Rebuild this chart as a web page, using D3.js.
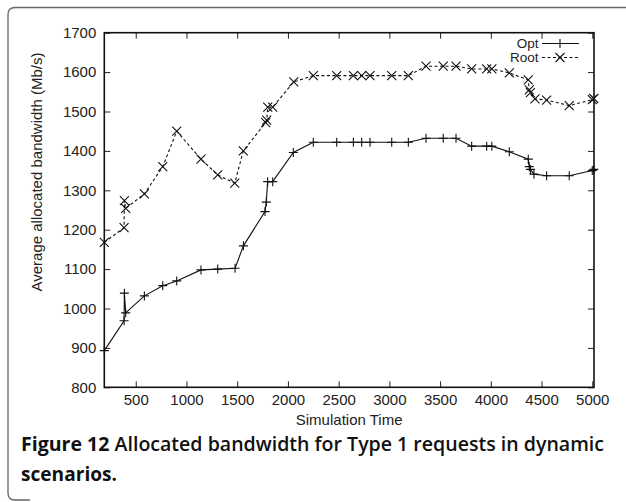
<!DOCTYPE html>
<html><head><meta charset="utf-8">
<script src="https://cdn.jsdelivr.net/npm/d3@7"></script>
<style>
body{margin:0;background:#fff;}
svg{display:block;}
</style></head>
<body>
<svg id="c" width="626" height="502"></svg>
<script>
const optX = [190,385,388,401,585,766,904,1143,1308,1479,1561,1774,1787,1800,1850,2053,2250,2481,2645,2727,2809,3023,3187,3361,3531,3657,3811,3959,4010,4182,4369,4379,4390,4425,4550,4773,5000,5015];
const optY = [893,969,1039,989,1032,1058,1070,1098,1100,1102,1159,1246,1270,1322,1322,1396,1422,1422,1422,1422,1422,1422,1422,1432,1432,1432,1412,1412,1412,1398,1379,1360,1353,1341,1337,1337,1350,1353];
const rootX = [190,385,388,401,585,766,904,1143,1308,1476,1560,1781,1791,1801,1850,2057,2250,2481,2645,2727,2809,3023,3187,3361,3531,3657,3811,3959,4010,4182,4369,4379,4390,4435,4550,4773,5000,5015];
const rootY = [1168,1205,1274,1254,1291,1360,1450,1379,1339,1318,1400,1472,1478,1511,1511,1575,1591,1591,1591,1591,1591,1591,1591,1615,1615,1615,1608,1608,1608,1598,1580,1555,1548,1532,1529,1515,1530,1533];
const xTicks = [500,1000,1500,2000,2500,3000,3500,4000,4500,5000];
const yTicks = [800,900,1000,1100,1200,1300,1400,1500,1600,1700];
const seriesNames = ["Opt","Root"];
const xLabel = "Simulation Time";
const yLabel = "Average allocated bandwidth (Mb/s)";
const captionBold = "Figure 12";
const captionLine1 = " Allocated bandwidth for Type 1 requests in dynamic";
const captionLine2 = "scenarios.";

const svg = d3.select("#c");
const L = 104.3, R = 594, T = 32.7, B = 387.3;
const x = d3.scaleLinear().domain([190, 5017]).range([L, R]);
const y = d3.scaleLinear().domain([800, 1700]).range([B, T]);
const font = "'Liberation Sans', Arial, sans-serif";
const fmt = d3.format("d");

// outer frame (rounded, open right side)
svg.append("path")
  .attr("d", "M626,7.5 H15 Q8,7.5 8,14.5 V493 Q8,500 15,500 H30")
  .attr("fill","none").attr("stroke","#666").attr("stroke-width",1.3);

const g = svg.append("g");
const tl = 6;
const xb = g.append("g").attr("transform",`translate(0,${B})`)
  .call(d3.axisBottom(x).tickValues(xTicks).tickSizeInner(-tl).tickSizeOuter(0).tickPadding(7.5).tickFormat(fmt));
const xt = g.append("g").attr("transform",`translate(0,${T})`)
  .call(d3.axisTop(x).tickValues(xTicks).tickSizeInner(-tl).tickSizeOuter(0).tickFormat(""));
const yl = g.append("g").attr("transform",`translate(${L},0)`)
  .call(d3.axisLeft(y).tickValues(yTicks).tickSizeInner(-tl).tickSizeOuter(0).tickPadding(8).tickFormat(fmt));
const yr = g.append("g").attr("transform",`translate(${R},0)`)
  .call(d3.axisRight(y).tickValues(yTicks).tickSizeInner(-tl).tickSizeOuter(0).tickFormat(""));
[xb,xt,yl,yr].forEach(a=>{
  a.select(".domain").remove();
  a.selectAll("line").attr("stroke","#222").attr("stroke-width",1);
  a.selectAll("text").attr("font-family",font).attr("font-size",15).attr("fill","#222");
});
g.append("rect").attr("x",L).attr("y",T).attr("width",R-L).attr("height",B-T)
  .attr("fill","none").attr("stroke","#111").attr("stroke-width",1.6);

// axis labels
svg.append("text").attr("x",(L+R)/2).attr("y",425).attr("text-anchor","middle")
  .attr("font-family",font).attr("font-size",15).attr("fill","#222").text(xLabel);
svg.append("text").attr("transform","translate(42,172) rotate(-90)").attr("text-anchor","middle")
  .attr("font-family",font).attr("font-size",15).attr("fill","#222").text(yLabel);

// lines
const optData = optX.map((v,i)=>[v,optY[i]]);
const rootData = rootX.map((v,i)=>[v,rootY[i]]);
const line = d3.line().x(d=>x(d[0])).y(d=>y(d[1]));
const ms = 4.5;
const plusPath = `M${-ms},0H${ms}M0,${-ms}V${ms}`;
const crossPath = `M${-ms},${-ms}L${ms},${ms}M${-ms},${ms}L${ms},${-ms}`;

g.append("path").datum(optData).attr("d",line).attr("fill","none").attr("stroke","#111").attr("stroke-width",1.1);
g.selectAll(".po").data(optData).join("path").attr("class","po")
  .attr("transform",d=>`translate(${x(d[0])},${y(d[1])})`).attr("d",plusPath)
  .attr("stroke","#111").attr("stroke-width",1.1).attr("fill","none");

g.append("path").datum(rootData).attr("d",line).attr("fill","none").attr("stroke","#111").attr("stroke-width",1.1)
  .attr("stroke-dasharray","3,2.5");
g.selectAll(".pr").data(rootData).join("path").attr("class","pr")
  .attr("transform",d=>`translate(${x(d[0])},${y(d[1])})`).attr("d",crossPath)
  .attr("stroke","#111").attr("stroke-width",1.1).attr("fill","none");

// legend
const lg = svg.append("g");
const legY = [43.5, 57.5];
seriesNames.forEach((n,i)=>{
  lg.append("text").attr("x",538.5).attr("y",legY[i]+4.5).attr("text-anchor","end")
    .attr("font-family",font).attr("font-size",13.5).attr("fill","#222").text(n);
  lg.append("line").attr("x1",542).attr("x2",579).attr("y1",legY[i]).attr("y2",legY[i])
    .attr("stroke","#111").attr("stroke-width",1.1).attr("stroke-dasharray", i===1?"3,2.5":null);
  lg.append("path").attr("transform",`translate(560,${legY[i]})`).attr("d", i===0?plusPath:crossPath)
    .attr("stroke","#111").attr("stroke-width",1.1).attr("fill","none");
});

// caption
const cf = "'Open Sans', 'Noto Sans', sans-serif";
const c1 = svg.append("text").attr("x",21).attr("y",451).attr("font-family",cf).attr("font-size",19)
  .attr("font-weight","bold").attr("fill","#111");
c1.append("tspan").text(captionBold);
c1.append("tspan").attr("font-weight","600").text(captionLine1);
c1.attr("textLength",583).attr("lengthAdjust","spacingAndGlyphs");
svg.append("text").attr("x",21).attr("y",481).attr("font-family",cf).attr("font-size",19)
  .attr("font-weight","bold").attr("fill","#111").text(captionLine2)
  .attr("textLength",96).attr("lengthAdjust","spacingAndGlyphs");
</script>
</body></html>
